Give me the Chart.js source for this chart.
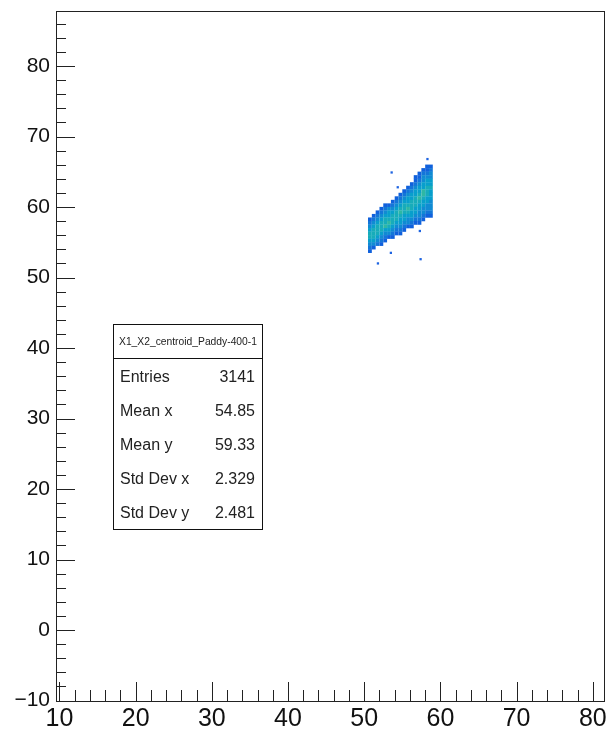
<!DOCTYPE html>
<html>
<head>
<meta charset="utf-8">
<title>X1_X2_centroid_Paddy-400-1</title>
<script src="https://cdn.jsdelivr.net/npm/chart.js@4.4.0/dist/chart.umd.min.js"></script>
<style>
  html, body { margin: 0; padding: 0; background: #fff; }
  canvas { display: block; }
</style>
</head>
<body>
<canvas id="histCanvas" width="608" height="732"></canvas>
<script>
// Axis ranges and labelled ticks
const xRange = [9.55, 81.6];
const yRange = [-10.2, 87.8];
const xTickLabels = [10, 20, 30, 40, 50, 60, 70, 80];
const yTickLabels = [-10, 0, 10, 20, 30, 40, 50, 60, 70, 80];
const minorStep = 2;

// 2D histogram, 0.5 x 0.5 bins. One string per row (top row first),
// one digit per column = bin content level read off the colour
const binSize = 0.5;
const xBinCenters = [50.75, 51.25, 51.75, 52.25, 52.75, 53.25, 53.75, 54.25, 54.75,
  55.25, 55.75, 56.25, 56.75, 57.25, 57.75, 58.25, 58.75];
const yBinCenters = [65.75, 65.25, 64.75, 64.25, 63.75, 63.25, 62.75, 62.25, 61.75,
  61.25, 60.75, 60.25, 59.75, 59.25, 58.75, 58.25, 57.75, 57.25, 56.75, 56.25, 55.75,
  55.25, 54.75, 54.25, 53.75];
const binContent = [
  "00000000000000011",
  "00000000000000112",
  "00000000000001223",
  "00000000000011333",
  "00000000000012344",
  "00000000000123444",
  "00000000001234455",
  "00000000012344654",
  "00000000123445654",
  "00000001234456544",
  "00000012344555443",
  "00001123455554433",
  "00012334556544333",
  "00123445655443322",
  "01234455544433211",
  "12345555443322100",
  "23455654433211000",
  "34556543321100000",
  "45554432210000000",
  "55543321100000000",
  "55432110000000000",
  "44321000000000000",
  "33210000000000000",
  "21000000000000000",
  "10000000000000000",
];
const zMin = -1;
const zMax = 13;

// Lone entries away from the band
const strayX = [58.3, 53.6, 54.4, 57.3, 53.5, 57.4, 51.8];
const strayY = [66.8, 64.9, 62.8, 56.6, 53.5, 52.6, 52.0];
const straySize = 0.3;

// Stats box
const statsTitle = "X1_X2_centroid_Paddy-400-1";
const statsLabels = ["Entries", "Mean x", "Mean y", "Std Dev x", "Std Dev y"];
const statsValues = ["3141", "54.85", "59.33", "2.329", "2.481"];

// ROOT kBird palette
const birdStops = [0, 0.125, 0.25, 0.375, 0.5, 0.625, 0.75, 0.875, 1];
const birdColors = [
  [53, 42, 135], [15, 92, 221], [20, 129, 214], [6, 164, 202], [46, 183, 164],
  [135, 191, 119], [209, 187, 89], [254, 200, 50], [249, 251, 14],
];

const FONT = "'Liberation Sans', Arial, Helvetica, sans-serif";

function birdColor(f) {
  f = Math.max(0, Math.min(1, f));
  for (let i = 1; i < birdStops.length; i++) {
    if (f <= birdStops[i]) {
      const t = (f - birdStops[i - 1]) / (birdStops[i] - birdStops[i - 1]);
      const a = birdColors[i - 1];
      const b = birdColors[i];
      const c = a.map((v, k) => Math.round(v + (b[k] - v) * t));
      return `rgb(${c[0]}, ${c[1]}, ${c[2]})`;
    }
  }
  return "rgb(249, 251, 14)";
}

// radius of a 'rect' point whose side equals `size` data units on x
function cellRadius(chart, size) {
  const x = chart.scales.x;
  const side = Math.abs(x.getPixelForValue(size) - x.getPixelForValue(0));
  return side / (2 * Math.SQRT1_2);
}

// Build the cell list from the grid
const cells = [];
binContent.forEach((row, r) => {
  for (let c = 0; c < row.length; c++) {
    const z = Number(row[c]);
    if (z > 0) cells.push({ x: xBinCenters[c], y: yBinCenters[r], z: z });
  }
});
const strays = strayX.map((x, i) => ({ x: x, y: strayY[i], z: 1 }));

// Ticks inside the frame + the frame itself + stats box, ROOT style
const rootFramePlugin = {
  id: "rootFrame",
  afterDraw(chart) {
    const { ctx, chartArea: a } = chart;
    const x = chart.scales.x;
    const y = chart.scales.y;

    ctx.save();
    ctx.strokeStyle = "#222";
    ctx.lineWidth = 1;
    ctx.beginPath();
    for (let v = xTickLabels[0]; v <= xRange[1]; v += minorStep) {
      const px = Math.round(x.getPixelForValue(v)) + 0.5;
      const len = v % 10 === 0 ? 20 : 12;
      ctx.moveTo(px, a.bottom);
      ctx.lineTo(px, a.bottom - len);
    }
    for (let v = yTickLabels[0]; v <= yRange[1]; v += minorStep) {
      const py = Math.round(y.getPixelForValue(v)) + 0.5;
      const len = v % 10 === 0 ? 19 : 10;
      ctx.moveTo(a.left, py);
      ctx.lineTo(a.left + len, py);
    }
    ctx.stroke();
    ctx.strokeRect(Math.round(a.left) + 0.5, Math.round(a.top) + 0.5,
      Math.round(a.right - a.left) - 1, Math.round(a.bottom - a.top) - 1);

    // stats box
    const bx = 113.5, by = 324.5, bw = 149, bh = 205;
    ctx.fillStyle = "#fff";
    ctx.fillRect(bx, by, bw, bh);
    ctx.strokeStyle = "#111";
    ctx.strokeRect(bx, by, bw, bh);
    ctx.beginPath();
    ctx.moveTo(bx, 358.5);
    ctx.lineTo(bx + bw, 358.5);
    ctx.stroke();

    ctx.fillStyle = "#222";
    ctx.textBaseline = "middle";
    ctx.textAlign = "center";
    ctx.font = `10.3px ${FONT}`;
    ctx.fillText(statsTitle, bx + bw / 2, 342);

    ctx.font = `16px ${FONT}`;
    statsLabels.forEach((label, i) => {
      const ty = 378 + i * 33.8;
      ctx.textAlign = "left";
      ctx.fillText(label, 120, ty);
      ctx.textAlign = "right";
      ctx.fillText(statsValues[i], 255, ty);
    });
    ctx.restore();
  },
};

document.addEventListener("DOMContentLoaded", () => {
  const ctx = document.getElementById("histCanvas").getContext("2d");

  new Chart(ctx, {
    type: "scatter",
    data: {
      datasets: [
        {
          label: "bins",
          data: cells,
          pointStyle: "rect",
          pointRadius: (c) => cellRadius(c.chart, binSize),
          backgroundColor: (c) =>
            c.raw ? birdColor((c.raw.z - zMin) / (zMax - zMin)) : "#1464d8",
          borderWidth: 0,
        },
        {
          label: "strays",
          data: strays,
          pointStyle: "rect",
          pointRadius: (c) => cellRadius(c.chart, straySize),
          backgroundColor: "rgb(30, 100, 225)",
          borderWidth: 0,
        },
      ],
    },
    options: {
      responsive: false,
      animation: false,
      events: [],
      layout: { padding: { top: 11, right: 3, left: 0, bottom: 0 } },
      plugins: {
        legend: { display: false },
        tooltip: { enabled: false },
      },
      scales: {
        x: {
          type: "linear",
          min: xRange[0],
          max: xRange[1],
          grid: { display: false, drawTicks: false },
          border: { display: false },
          ticks: {
            color: "#111",
            font: { size: 25, family: FONT },
            padding: 2,
            autoSkip: false,
            maxRotation: 0,
          },
          afterBuildTicks: (scale) => {
            scale.ticks = xTickLabels.map((v) => ({ value: v }));
          },
          afterFit: (scale) => {
            scale.height = 30;
            scale.paddingLeft = 0;
            scale.paddingRight = 0;
          },
        },
        y: {
          type: "linear",
          min: yRange[0],
          max: yRange[1],
          grid: { display: false, drawTicks: false },
          border: { display: false },
          ticks: {
            color: "#111",
            font: { size: 21, family: FONT },
            padding: 6,
            autoSkip: false,
            callback: (v) => (v < 0 ? "\u2212" + Math.abs(v) : String(v)),
          },
          afterBuildTicks: (scale) => {
            scale.ticks = yTickLabels.map((v) => ({ value: v }));
          },
          afterFit: (scale) => {
            scale.width = 56;
            scale.paddingTop = 0;
            scale.paddingBottom = 0;
          },
        },
      },
    },
    plugins: [rootFramePlugin],
  });
});
</script>
</body>
</html>
